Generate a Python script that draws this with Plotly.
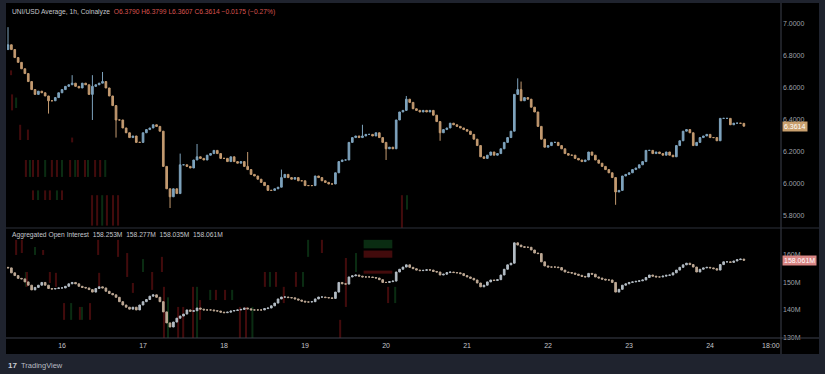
import pandas as pd
import plotly.graph_objects as go

# ---------------- data ----------------
first_open = 6.84
closes = [
    6.87, 6.84, 6.79, 6.76, 6.72, 6.69, 6.64, 6.59, 6.56, 6.58,
    6.57, 6.55, 6.52, 6.52, 6.54, 6.57, 6.59, 6.61, 6.62, 6.63,
    6.61, 6.60, 6.63, 6.62, 6.56, 6.61, 6.62, 6.63, 6.64, 6.60,
    6.55, 6.49, 6.40, 6.40, 6.35, 6.32, 6.29, 6.30, 6.26, 6.26,
    6.32, 6.34, 6.35, 6.37, 6.36, 6.33, 6.11, 5.97, 5.92, 5.97,
    5.94, 6.12, 6.12, 6.11, 6.10, 6.15, 6.17, 6.16, 6.15, 6.18,
    6.19, 6.21, 6.19, 6.16, 6.16, 6.14, 6.17, 6.14, 6.13, 6.14,
    6.11, 6.09, 6.06, 6.05, 6.03, 6.01, 5.99, 5.96, 5.96, 5.97,
    5.98, 6.04, 6.06, 6.04, 6.03, 6.04, 6.02, 6.02, 5.99, 5.99,
    5.99, 6.05, 6.04, 6.02, 6.01, 6.00, 6.00, 6.07, 6.14, 6.15,
    6.15, 6.26, 6.29, 6.30, 6.29, 6.30, 6.31, 6.31, 6.30, 6.32,
    6.29, 6.26, 6.22, 6.23, 6.22, 6.40, 6.45, 6.46, 6.53, 6.51,
    6.47, 6.46, 6.45, 6.46, 6.45, 6.46, 6.43, 6.39, 6.32, 6.34,
    6.35, 6.38, 6.37, 6.36, 6.35, 6.34, 6.33, 6.31, 6.28, 6.24,
    6.17, 6.16, 6.18, 6.20, 6.18, 6.19, 6.22, 6.26, 6.29, 6.33,
    6.56, 6.59, 6.52, 6.54, 6.53, 6.48, 6.45, 6.36, 6.28, 6.23,
    6.24, 6.26, 6.26, 6.24, 6.22, 6.19, 6.18, 6.18, 6.16, 6.15,
    6.14, 6.15, 6.20, 6.18, 6.15, 6.13, 6.11, 6.09, 6.07, 6.04,
    5.95, 5.96, 6.05, 6.06, 6.07, 6.09, 6.10, 6.12, 6.14, 6.21,
    6.21, 6.19, 6.20, 6.19, 6.18, 6.20, 6.18, 6.17, 6.24, 6.27,
    6.33, 6.34, 6.32, 6.24, 6.26, 6.29, 6.30, 6.31, 6.29, 6.29,
    6.27, 6.41, 6.41, 6.41, 6.37, 6.38, 6.38, 6.379, 6.3614,
]
# notable wicks (candle index -> price)
wick_highs = {0: 6.98, 19: 6.68, 25: 6.68, 28: 6.70, 51: 6.19, 56: 6.25,
              71: 6.20, 81: 6.09, 105: 6.37, 118: 6.55, 151: 6.66,
              152: 6.64, 218: 6.3799}
wick_lows = {12: 6.44, 25: 6.40, 32: 6.29, 48: 5.85, 112: 6.15,
             128: 6.27, 180: 5.87, 218: 6.3607}

oi_first_open = 155.5
open_interest = [
    155.3, 153.5, 152.5, 151.5, 151.3, 150.2, 149.0, 147.3, 148.2, 149.0,
    150.0, 149.0, 147.8, 147.6, 147.8, 148.0, 148.0, 148.6, 149.5, 150.0,
    149.5, 148.6, 148.2, 148.0, 147.4, 146.5, 147.8, 148.4, 148.0, 146.8,
    146.0, 145.5, 144.6, 143.0, 141.8, 141.0, 140.3, 141.0, 140.0, 141.8,
    143.0, 143.8, 145.0, 145.5, 144.6, 143.0, 139.3, 135.3, 133.8, 135.6,
    137.0, 137.8, 138.5, 140.0, 139.5, 139.7, 140.7, 140.3, 140.0, 140.0,
    140.0, 139.7, 139.6, 139.2, 139.0, 139.2, 139.6, 139.8, 140.0, 140.2,
    140.7, 140.4, 140.0, 140.0, 140.0, 140.0, 140.5, 140.7, 141.5, 142.5,
    144.0, 144.7, 144.7, 144.5, 144.4, 144.0, 143.6, 143.2, 142.9, 142.9,
    143.0, 144.0, 144.7, 144.7, 144.5, 144.4, 144.2, 146.5, 150.0, 149.5,
    149.4, 152.0, 152.4, 152.7, 152.3, 152.0, 152.0, 152.0, 151.8, 151.6,
    151.0, 150.0, 150.0, 150.3, 150.5, 153.8, 154.8, 155.6, 156.4, 155.5,
    155.0, 154.5, 154.3, 154.4, 154.6, 154.5, 154.0, 153.8, 152.7, 153.0,
    153.6, 153.8, 153.6, 153.5, 153.2, 152.5, 152.0, 151.5, 150.9, 149.8,
    148.4, 149.0, 150.2, 150.9, 150.7, 151.0, 152.7, 154.8, 156.4, 157.0,
    164.4, 163.6, 163.0, 162.8, 162.8, 161.8, 160.7, 160.5, 157.5, 156.0,
    155.6, 155.6, 155.6, 155.4, 154.5, 153.8, 153.6, 153.4, 153.0, 152.6,
    152.2, 152.0, 153.3, 153.0, 152.0, 151.6, 151.2, 150.9, 150.9, 150.0,
    146.5, 147.5, 149.0, 149.5, 150.0, 150.2, 150.4, 150.6, 150.9, 151.8,
    152.7, 152.3, 152.0, 152.0, 152.3, 152.6, 152.7, 153.5, 154.5, 155.5,
    156.4, 157.0, 156.5, 155.6, 153.8, 154.8, 155.3, 155.5, 155.3, 155.0,
    154.5, 156.5, 157.5, 157.5, 157.3, 157.8, 158.3, 158.5, 158.061,
]

# faint red/green background streaks (heat overlay)
# (hours after start, low, high, colour key)
oi_streak_hour = [2.4, 4.1, 5.3, 5.6, 8.0, 10.4, 12.4, 14.2, 16.6, 18.7, 21.3, 21.9,
                  24.3, 26.7, 27.0, 32.6, 35.3, 37.0, 40.0, 42.7, 45.6, 46.2, 47.4,
                  50.4, 51.9, 54.8, 56.0, 56.9, 59.9, 61.6, 64.3, 66.4, 68.7, 70.5,
                  72.4, 76.1, 77.6, 79.4, 81.7, 85.3, 87.4, 88.9, 93.0, 98.4, 100.1,
                  103.1, 112.6, 114.7]
oi_streak_lo = [160.0, 160.7, 148.4, 148.4, 160.0, 160.0, 149.8, 148.4, 136.4, 136.4,
                136.4, 136.4, 136.4, 160.0, 148.4, 159.3, 152.0, 146.2, 153.8, 147.3,
                153.8, 129.8, 129.8, 129.8, 129.8, 129.8, 129.8, 136.4, 143.6, 143.6,
                143.6, 143.6, 129.8, 129.8, 129.8, 148.4, 148.4, 148.4, 142.5, 148.4,
                148.4, 159.3, 160.7, 129.8, 141.1, 153.8, 142.5, 142.5]
oi_streak_hi = [165.5, 165.5, 153.8, 153.8, 162.9, 161.8, 153.8, 153.5, 142.5, 142.5,
                141.1, 141.1, 142.5, 165.5, 153.5, 165.5, 160.7, 149.8, 158.5, 153.8,
                159.3, 148.4, 144.6, 141.1, 141.1, 148.4, 148.4, 143.6, 147.3, 147.3,
                147.3, 147.3, 141.1, 141.1, 141.1, 153.8, 153.8, 153.8, 148.4, 153.8,
                153.8, 165.5, 165.5, 136.4, 158.9, 160.7, 148.4, 148.4]
oi_streak_col = ["r", "r", "g", "r", "g", "r", "r", "r", "r", "g", "r", "g",
                 "r", "r", "r", "r", "r", "r", "g", "r", "r", "r", "g", "r", "r",
                 "r", "g", "r", "g", "r", "r", "g", "r", "r", "g", "r", "g", "r",
                 "r", "r", "g", "g", "r", "r", "r", "g", "r", "g"]
oi_block_hour = [109.6, 109.6, 109.6]
oi_block_lo = [162.4, 159.0, 153.2]
oi_block_hi = [165.5, 161.6, 154.3]
oi_block_col = ["g", "r", "r"]

px_streak_hour = [0.9, 1.2, 2.4, 3.6, 5.9, 19.0, 5.3, 6.5, 7.4, 8.9, 11.0, 13.0,
                  14.5, 16.0, 18.4, 19.9, 20.7, 22.8, 23.7, 25.8, 27.3, 28.8, 7.4,
                  8.9, 11.0, 12.4, 14.5, 16.0, 24.9, 26.4, 27.9, 29.3, 31.1, 32.6,
                  116.7, 118.2]
px_streak_lo = [6.68, 6.46, 6.475, 6.275, 6.275, 6.26, 6.044, 6.044, 6.044, 6.044,
                6.044, 6.044, 6.044, 6.044, 6.044, 6.044, 6.044, 6.044, 6.044,
                6.044, 6.044, 6.044, 5.90, 5.90, 5.90, 5.90, 5.90, 5.90, 5.74,
                5.74, 5.74, 5.74, 5.74, 5.74, 5.725, 5.84]
px_streak_hi = [6.71, 6.56, 6.54, 6.37, 6.34, 6.29, 6.15, 6.15, 6.15, 6.15, 6.15,
                6.15, 6.15, 6.15, 6.15, 6.15, 6.15, 6.15, 6.15, 6.15, 6.15, 6.15,
                5.96, 5.96, 5.96, 5.96, 5.96, 5.96, 5.93, 5.93, 5.93, 5.93, 5.93,
                5.93, 5.93, 5.93]
px_streak_col = ["r", "r", "g", "r", "r", "r", "r", "g", "r", "r", "g", "r", "r",
                 "g", "r", "g", "r", "r", "g", "r", "r", "g", "r", "g", "r", "r",
                 "g", "r", "r", "r", "g", "r", "r", "r", "r", "g"]

start_time = "2024-09-15 08:00"
day_ticks = ["2024-09-16", "2024-09-17", "2024-09-18", "2024-09-19", "2024-09-20",
             "2024-09-21", "2024-09-22", "2024-09-23", "2024-09-24", "2024-09-24 18:00"]
day_labels = ["16", "17", "18", "19", "20", "21", "22", "23", "24", "18:00"]
price_ticks = [5.8, 6.0, 6.2, 6.4, 6.6, 6.8, 7.0]
oi_ticks = [130, 140, 150, 160]
oi_labels = ["130M", "140M", "150M", "160M"]

title_main = "UNI/USD Average, 1h, Coinalyze"
title_vals = "O6.3790 H6.3799 L6.3607 C6.3614 \u22120.0175 (\u22120.27%)"
oi_title = "Aggregated Open Interest"
oi_vals = "158.253M  158.277M  158.035M  158.061M"
last_price = 6.3614
last_oi = 158.061

# ---------------- derived OHLC ----------------
n = len(closes)
t0 = pd.Timestamp(start_time)
times = pd.date_range(start_time, periods=n, freq="h")
opens = [first_open] + closes[:-1]
highs = [max(o, c) for o, c in zip(opens, closes)]
lows = [min(o, c) for o, c in zip(opens, closes)]
for k, v in wick_highs.items():
    highs[k] = v
for k, v in wick_lows.items():
    lows[k] = v

m = len(open_interest)
oi_times = pd.date_range(start_time, periods=m, freq="h")
oi_open = [oi_first_open] + open_interest[:-1]
oi_high = [max(o, c) for o, c in zip(oi_open, open_interest)]
oi_low = [min(o, c) for o, c in zip(oi_open, open_interest)]

# ---------------- styling ----------------
FRAME = "#1f232e"
PANEL = "#000000"
LINE = "#2c303b"
AXISLINE = "#3d414c"
TXT = "#9ea1a8"
UP = "#7ea3bd"
DOWN = "#c39a70"
SRED = "#420b0c"
SGREEN = "#0a2c12"
FONT = "Liberation Sans, Arial, sans-serif"
HOUR_MS = 3600 * 1000


def hours_to_time(hs):
    return [t0 + pd.Timedelta(hours=h) for h in hs]


def streak_colors(keys):
    return [SRED if k == "r" else SGREEN for k in keys]


fig = go.Figure()
# background streaks
fig.add_trace(go.Bar(
    x=hours_to_time(px_streak_hour),
    y=[h - l for l, h in zip(px_streak_lo, px_streak_hi)], base=px_streak_lo,
    width=0.6 * HOUR_MS, marker=dict(color=streak_colors(px_streak_col), line=dict(width=0)),
    xaxis="x", yaxis="y", showlegend=False, hoverinfo="skip",
))
fig.add_trace(go.Bar(
    x=hours_to_time(oi_streak_hour),
    y=[h - l for l, h in zip(oi_streak_lo, oi_streak_hi)], base=oi_streak_lo,
    width=0.6 * HOUR_MS, marker=dict(color=streak_colors(oi_streak_col), line=dict(width=0)),
    xaxis="x2", yaxis="y2", showlegend=False, hoverinfo="skip",
))
fig.add_trace(go.Bar(
    x=hours_to_time(oi_block_hour),
    y=[h - l for l, h in zip(oi_block_lo, oi_block_hi)], base=oi_block_lo,
    width=8.5 * HOUR_MS, marker=dict(color=streak_colors(oi_block_col), line=dict(width=0)),
    xaxis="x2", yaxis="y2", showlegend=False, hoverinfo="skip",
))

fig.add_trace(go.Candlestick(
    x=times, open=opens, high=highs, low=lows, close=closes,
    increasing=dict(line=dict(color=UP, width=1), fillcolor=UP),
    decreasing=dict(line=dict(color=DOWN, width=1), fillcolor=DOWN),
    whiskerwidth=0, xaxis="x", yaxis="y", showlegend=False, hoverinfo="skip",
))
fig.add_trace(go.Candlestick(
    x=oi_times, open=oi_open, high=oi_high, low=oi_low, close=open_interest,
    increasing=dict(line=dict(color="#b3bcc4", width=1), fillcolor="#b3bcc4"),
    decreasing=dict(line=dict(color="#bda894", width=1), fillcolor="#bda894"),
    whiskerwidth=0, xaxis="x2", yaxis="y2", showlegend=False, hoverinfo="skip",
))

W, H = 825, 374
ml, mr, mt, mb = 7, 44, 3, 36
pw, ph = W - ml - mr, H - mt - mb
split = (338 - 228) / ph


def px_x(x):
    return (x - ml) / pw


def px_y(y):
    return (H - mb - y) / ph


xrange = ["2024-09-15 07:42", "2024-09-24 21:00"]
fig.update_layout(
    width=W, height=H,
    margin=dict(l=ml, r=mr, t=mt, b=mb, pad=0),
    paper_bgcolor=FRAME, plot_bgcolor=PANEL,
    font=dict(family=FONT, size=7, color=TXT),
    showlegend=False, barmode="overlay",
    xaxis=dict(domain=[0, 1], anchor="y", range=xrange, showgrid=False, zeroline=False,
               showticklabels=False, rangeslider=dict(visible=False), showline=False),
    xaxis2=dict(domain=[0, 1], anchor="y2", range=xrange, matches="x", showgrid=False,
                zeroline=False, tickmode="array", tickvals=day_ticks, ticktext=day_labels,
                ticks="", ticklabelstandoff=2,
                tickfont=dict(size=7, color="#c2c4ca", family=FONT),
                rangeslider=dict(visible=False), showline=False),
    yaxis=dict(domain=[split, 1], anchor="x", side="right", range=[5.725, 7.131],
               showgrid=False, zeroline=False, tickmode="array", tickvals=price_ticks,
               tickformat=".4f", ticks="", ticklabelstandoff=1,
               tickfont=dict(size=7, color=TXT, family=FONT)),
    yaxis2=dict(domain=[0, split], anchor="x2", side="right", range=[129.8, 169.8],
                showgrid=False, zeroline=False, tickmode="array", tickvals=oi_ticks,
                ticktext=oi_labels, ticks="", ticklabelstandoff=1,
                tickfont=dict(size=7, color=TXT, family=FONT)),
)

shapes = [
    dict(type="rect", xref="paper", yref="paper", x0=px_x(6), x1=px_x(819),
         y0=px_y(354), y1=px_y(3), fillcolor=PANEL, line=dict(width=0), layer="below"),
    dict(type="line", xref="paper", yref="paper", x0=1, x1=1, y0=px_y(354), y1=px_y(3),
         line=dict(color=AXISLINE, width=1)),
    dict(type="line", xref="paper", yref="paper", x0=px_x(6), x1=px_x(819),
         y0=split, y1=split, line=dict(color=LINE, width=1)),
    dict(type="line", xref="paper", yref="paper", x0=px_x(6), x1=px_x(819),
         y0=0, y1=0, line=dict(color=AXISLINE, width=1)),
]
fig.update_layout(shapes=shapes)

ann = [
    dict(xref="paper", yref="paper", x=px_x(10), y=px_y(12), xanchor="left", yanchor="middle",
         showarrow=False, font=dict(size=6.7, color="#c4c6cc", family=FONT),
         text=title_main + "&nbsp;&nbsp;<span style='color:#d9534f'>" + title_vals + "</span>"),
    dict(xref="paper", yref="paper", x=px_x(10), y=px_y(235), xanchor="left", yanchor="middle",
         showarrow=False, font=dict(size=6.7, color="#c4c6cc", family=FONT),
         text=oi_title + "&nbsp;&nbsp;" + oi_vals.replace("  ", "&nbsp;&nbsp;")),
    dict(xref="paper", yref="y", x=1, y=last_price, xanchor="left", yanchor="middle",
         showarrow=False, text="6.3614", bgcolor="#c9a06e", borderpad=1,
         font=dict(size=7, color="#ffffff", family=FONT), xshift=1),
    dict(xref="paper", yref="y2", x=1, y=last_oi, xanchor="left", yanchor="middle",
         showarrow=False, text="158.061M", bgcolor="#d88584", borderpad=1,
         font=dict(size=7, color="#ffffff", family=FONT), xshift=1),
    dict(xref="paper", yref="paper", x=px_x(6), y=px_y(365), xanchor="left", yanchor="middle",
         showarrow=False, text="<b>17</b>", font=dict(size=8, color="#c9ccd3", family=FONT)),
    dict(xref="paper", yref="paper", x=px_x(19), y=px_y(365), xanchor="left", yanchor="middle",
         showarrow=False, text="TradingView", font=dict(size=7.5, color="#b9bcc3", family=FONT)),
]
fig.update_layout(annotations=ann)

fig.write_html("out.html")
